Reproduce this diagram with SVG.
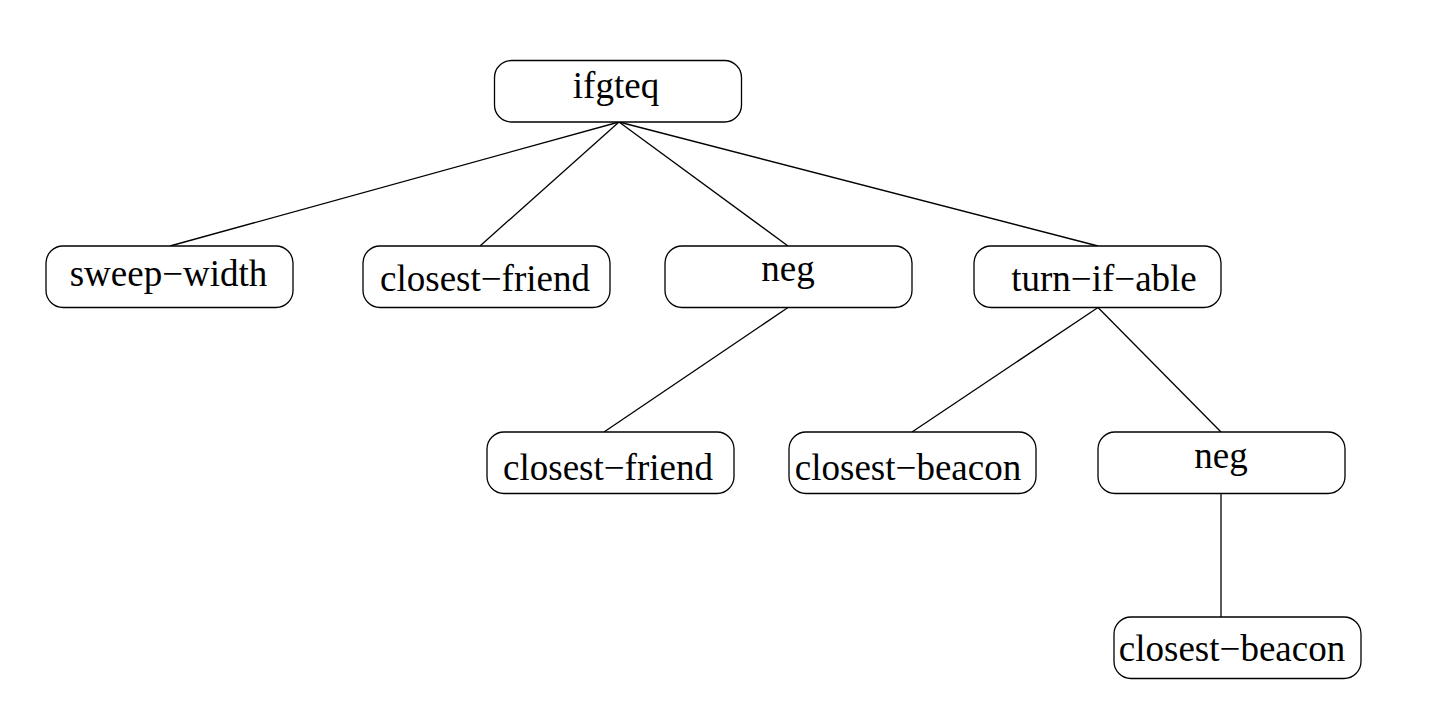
<svg xmlns="http://www.w3.org/2000/svg" width="1446" height="715" viewBox="0 0 1446 715">
<style>
.box{fill:#fff;stroke:#000;stroke-width:1.3}
.lbl{font-family:"Liberation Serif","Times New Roman",serif;font-size:37px;fill:#000;text-anchor:middle}
.edge{stroke:#000;stroke-width:1.3;fill:none}
</style>
<rect width="1446" height="715" fill="#fff"/>
<g id="connectors">
<line class="edge" x1="619" y1="122" x2="170" y2="246"/>
<line class="edge" x1="619" y1="122" x2="480" y2="246"/>
<line class="edge" x1="619" y1="122" x2="788" y2="246"/>
<line class="edge" x1="619" y1="122" x2="1098" y2="246"/>
<line class="edge" x1="788" y1="307.5" x2="604" y2="432"/>
<line class="edge" x1="1098" y1="307.5" x2="912" y2="432"/>
<line class="edge" x1="1098" y1="307.5" x2="1221" y2="432"/>
<line class="edge" x1="1221" y1="493.5" x2="1221" y2="617"/>
</g>
<g id="n-ifgteq"><rect class="box" x="494.5" y="60.5" width="247" height="61.5" rx="17"/><text class="lbl" x="616" y="97.5">ifgteq</text></g>
<g id="n-sweep-width"><rect class="box" x="46" y="246" width="247" height="61.5" rx="17"/><text class="lbl" x="168.5" y="286">sweep−width</text></g>
<g id="n-closest-friend-1"><rect class="box" x="363" y="246" width="247" height="61.5" rx="17"/><text class="lbl" x="485" y="290.5">closest−friend</text></g>
<g id="n-neg-1"><rect class="box" x="665" y="246" width="247" height="61.5" rx="17"/><text class="lbl" x="788" y="281">neg</text></g>
<g id="n-turn-if-able"><rect class="box" x="974" y="246" width="247" height="61.5" rx="17"/><text class="lbl" x="1104" y="290.5">turn−if−able</text></g>
<g id="n-closest-friend-2"><rect class="box" x="487" y="432" width="247" height="61.5" rx="17"/><text class="lbl" x="608" y="479.5">closest−friend</text></g>
<g id="n-closest-beacon-1"><rect class="box" x="789" y="432" width="247" height="61.5" rx="17"/><text class="lbl" x="908" y="479.5">closest−beacon</text></g>
<g id="n-neg-2"><rect class="box" x="1098" y="432" width="247" height="61.5" rx="17"/><text class="lbl" x="1221" y="467.5">neg</text></g>
<g id="n-closest-beacon-2"><rect class="box" x="1114" y="617" width="247" height="61.5" rx="17"/><text class="lbl" x="1232" y="660.5">closest−beacon</text></g>
</svg>
